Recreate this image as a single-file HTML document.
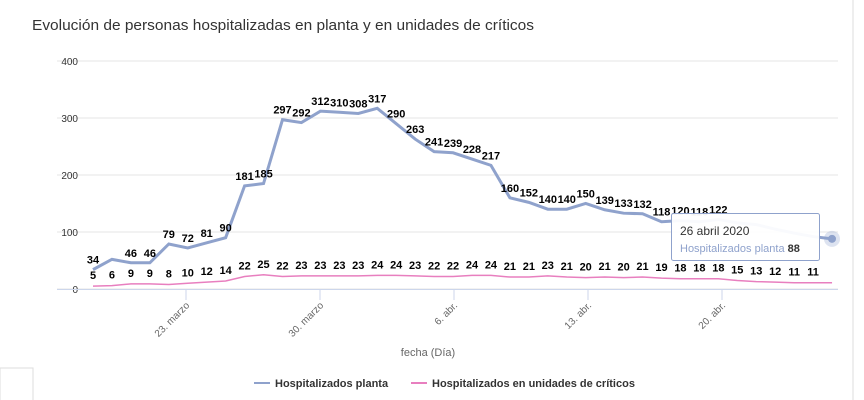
<!DOCTYPE html><html><head><meta charset="utf-8"><style>
body{margin:0;width:864px;height:400px;background:#fff;overflow:hidden;font-family:"Liberation Sans",sans-serif}
</style></head><body>
<svg id="s" width="864" height="400" xmlns="http://www.w3.org/2000/svg" style="position:absolute;left:0;top:0">
<text x="32" y="30" font-size="15" fill="#333" textLength="502" lengthAdjust="spacingAndGlyphs">Evolución de personas hospitalizadas en planta y en unidades de críticos</text>
<line x1="853" y1="0" x2="853" y2="400" stroke="#ddd"/>
<rect x="0" y="368" width="33" height="40" fill="none" stroke="#ddd"/>
<g id="g"></g>
<text x="428" y="356" font-size="11" fill="#666" text-anchor="middle">fecha (Día)</text>
<line x1="254" y1="383" x2="270" y2="383" stroke="#8fa2cc" stroke-width="2"/>
<text x="275" y="387" font-size="11" font-weight="bold" fill="#333">Hospitalizados planta</text>
<line x1="411" y1="383" x2="427" y2="383" stroke="#e87fbf" stroke-width="2"/>
<text x="432" y="387" font-size="11" font-weight="bold" fill="#333">Hospitalizados en unidades de críticos</text>
</svg>
<script>
var P=[34,52,46,46,79,72,81,90,181,185,297,292,312,310,308,317,290,263,241,239,228,217,160,152,140,140,150,139,133,132,118,120,118,122,116,113,105,98,92,88];
var I=[5,6,9,9,8,10,12,14,22,25,22,23,23,23,23,24,24,23,22,22,24,24,21,21,23,21,20,21,20,21,19,18,18,18,15,13,12,11,11,11];
var h='';
[0,100,200,300,400].forEach(function(v){var y=289-v*0.57;h+='<line x1="57" x2="838" y1="'+y+'" y2="'+y+'" stroke="#e6e6e6"/><text x="78" y="'+(y+4)+'" font-size="10" fill="#333" text-anchor="end">'+v+'</text>';});
h+='<line x1="57" x2="838" y1="289.5" y2="289.5" stroke="#ccd6eb"/>';
var tk=[[186,'23. marzo'],[320,'30. marzo'],[454,'6. abr.'],[588,'13. abr.'],[722,'20. abr.']];
tk.forEach(function(t){h+='<line x1="'+t[0]+'" x2="'+t[0]+'" y1="290" y2="300" stroke="#ccd6eb"/><text font-size="10" fill="#666" text-anchor="end" transform="translate('+(t[0]+4)+',306) rotate(-45)">'+t[1]+'</text>';});
function X(i){return 93+i*18.95}function Y(v){return 289-v*0.57}
var a='',b='';P.forEach(function(v,i){a+=(i?'L':'M')+X(i)+' '+Y(v)});I.forEach(function(v,i){b+=(i?'L':'M')+X(i)+' '+Y(v)});
h+='<path d="'+a+'" fill="none" stroke="#8fa2cc" stroke-width="3"/><path d="'+b+'" fill="none" stroke="#e87fbf" stroke-width="1.5"/>';
P.forEach(function(v,i){if(i>=34||i==1)return;h+='<text x="'+X(i)+'" y="'+(Y(v)-6)+'" font-size="11" font-weight="bold" fill="#000" text-anchor="middle">'+v+'</text>';});
I.forEach(function(v,i){if(i>=39)return;h+='<text x="'+X(i)+'" y="'+(Y(v)-7)+'" font-size="11" font-weight="bold" fill="#000" text-anchor="middle">'+v+'</text>';});
h+='<circle cx="832" cy="'+Y(88)+'" r="8" fill="#8fa2cc" opacity="0.3"/><circle cx="832" cy="'+Y(88)+'" r="4" fill="#8fa2cc"/>';
h+='<rect x="671.5" y="213.5" width="148" height="47" fill="#fff" fill-opacity="0.95" stroke="#8fa2cc" rx="2"/>';
h+='<text x="680" y="235" font-size="12" fill="#333">26 abril 2020</text><text x="680" y="252" font-size="11" fill="#8fa2cc">Hospitalizados planta <tspan fill="#333" font-weight="bold">88</tspan></text>';
document.getElementById('g').innerHTML=h;
</script>
</body></html>
